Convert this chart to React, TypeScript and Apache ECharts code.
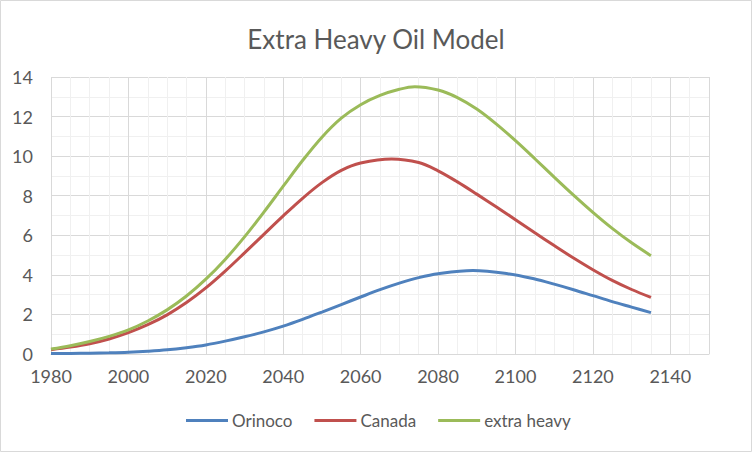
import React, { useEffect, useRef } from "react";
import * as echarts from "echarts";

const orinocoYears = [1980, 1985, 1990, 1995, 2000, 2005, 2010, 2015, 2020, 2025, 2030, 2035, 2040, 2045, 2050, 2055, 2060, 2065, 2070, 2075, 2080, 2089, 2098, 2105, 2110, 2115, 2120, 2125, 2130, 2135];
const orinoco = [0.02, 0.03, 0.04, 0.06, 0.09, 0.14, 0.21, 0.32, 0.46, 0.65, 0.87, 1.12, 1.41, 1.75, 2.12, 2.50, 2.88, 3.25, 3.58, 3.86, 4.06, 4.22, 4.06, 3.79, 3.53, 3.25, 2.95, 2.65, 2.37, 2.09];
const canadaYears = [1980, 1985, 1990, 1995, 2000, 2005, 2010, 2015, 2020, 2025, 2030, 2035, 2040, 2045, 2050, 2055, 2060, 2068, 2075, 2080, 2085, 2090, 2095, 2100, 2105, 2110, 2115, 2120, 2125, 2130, 2135];
const canada = [0.22, 0.35, 0.52, 0.76, 1.08, 1.48, 1.98, 2.60, 3.34, 4.19, 5.11, 6.05, 6.98, 7.87, 8.66, 9.28, 9.65, 9.86, 9.68, 9.26, 8.70, 8.08, 7.44, 6.79, 6.13, 5.48, 4.85, 4.26, 3.72, 3.26, 2.86];
const extraHeavyYears = [1980, 1985, 1990, 1995, 2000, 2005, 2010, 2015, 2020, 2025, 2030, 2035, 2040, 2045, 2050, 2055, 2060, 2065, 2070, 2074, 2080, 2085, 2090, 2095, 2100, 2105, 2110, 2115, 2120, 2125, 2130, 2135];
const extraHeavy = [0.25, 0.42, 0.63, 0.89, 1.22, 1.67, 2.23, 2.93, 3.78, 4.78, 5.92, 7.17, 8.48, 9.78, 10.96, 11.92, 12.60, 13.07, 13.38, 13.51, 13.34, 12.96, 12.38, 11.63, 10.78, 9.87, 8.94, 8.03, 7.16, 6.35, 5.62, 4.97];
const seriesNames = ["Orinoco", "Canada", "extra heavy"];
const seriesColors = ["#4F81BD", "#C0504D", "#9BBB59"];
const title = "Extra Heavy Oil Model";

const FONT = "Lato";

export default function App() {
  const ref = useRef<HTMLDivElement>(null);
  useEffect(() => {
    if (!ref.current) return;
    const chart = echarts.init(ref.current, null, { renderer: "svg" });
    const xs = [orinocoYears, canadaYears, extraHeavyYears];
    const ys = [orinoco, canada, extraHeavy];
    chart.setOption({
      animation: false,
      backgroundColor: "#ffffff",
      title: {
        text: title,
        left: "center",
        top: 21,
        textStyle: { fontFamily: FONT, fontSize: 26, fontWeight: "normal", color: "#595959" },
      },
      graphic: [
        {
          type: "rect",
          shape: { x: 0.5, y: 0.5, width: 751, height: 451 },
          style: { fill: "none", stroke: "#d9d9d9", lineWidth: 1 },
          silent: true,
        },
      ],
      legend: {
        left: 181,
        top: 407,
        itemWidth: 42,
        itemHeight: 3,
        itemGap: 22,
        icon: "rect",
        textStyle: { fontFamily: FONT, fontSize: 17, color: "#595959", padding: [0, 0, 0, -1] },
        data: seriesNames,
      },
      grid: { left: 51, right: 43, top: 77, bottom: 98, containLabel: false },
      xAxis: {
        type: "value",
        min: 1980,
        max: 2150,
        interval: 20,
        axisLine: { show: true, lineStyle: { color: "#d9d9d9", width: 1 } },
        axisTick: { show: false },
        axisLabel: {
          fontFamily: FONT,
          fontSize: 18,
          color: "#595959",
          margin: 13,
          showMaxLabel: false,
          formatter: (v: number) => String(v),
        },
        splitLine: { show: true, lineStyle: { color: "#d9d9d9", width: 1 } },
        minorTick: { show: false, splitNumber: 4 },
        minorSplitLine: { show: true, lineStyle: { color: "#f0f0f0", width: 1 } },
      },
      yAxis: {
        type: "value",
        min: 0,
        max: 14,
        interval: 2,
        axisLine: { show: false },
        axisTick: { show: false },
        axisLabel: { fontFamily: FONT, fontSize: 18, color: "#595959", margin: 18 },
        splitLine: { show: true, lineStyle: { color: "#d9d9d9", width: 1 } },
        minorTick: { show: false, splitNumber: 2 },
        minorSplitLine: { show: true, lineStyle: { color: "#f0f0f0", width: 1 } },
      },
      series: seriesNames.map((name, i) => ({
        name,
        type: "line",
        smooth: 0.35,
        showSymbol: false,
        symbol: "none",
        color: seriesColors[i],
        lineStyle: { width: 3, color: seriesColors[i] },
        data: xs[i].map((x, j) => [x, ys[i][j]]),
      })),
    });
    return () => chart.dispose();
  }, []);
  return (
    <div style={{ position: "fixed", left: 0, top: 0, width: 752, height: 452 }}>
      <div ref={ref} style={{ width: 752, height: 452 }} />
    </div>
  );
}
